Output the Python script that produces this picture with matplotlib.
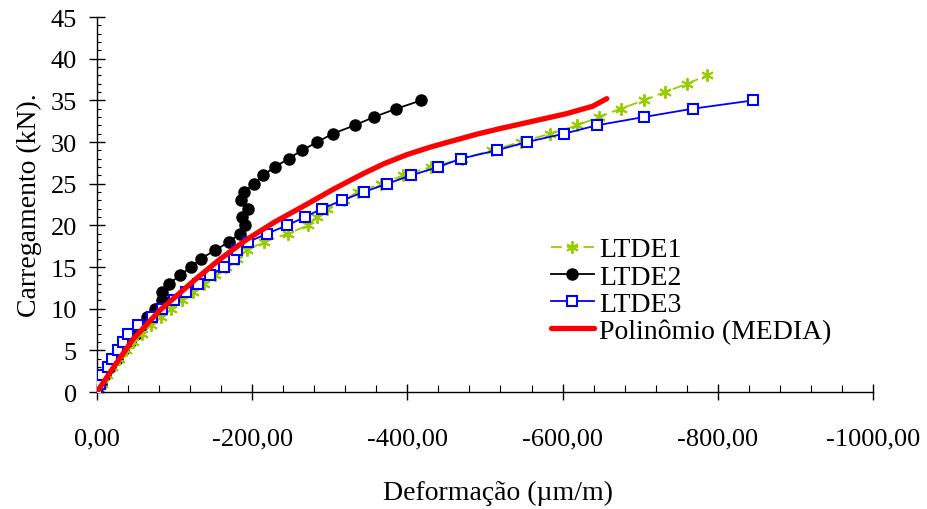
import matplotlib
matplotlib.use("Agg")
import matplotlib.pyplot as plt
from matplotlib.ticker import MultipleLocator, FixedLocator

plt.rcParams['font.family'] = ['Liberation Serif', 'DejaVu Serif']

# Load steps (kN) and measured strains (µm/m) for each specimen
load_ltde1 = list(range(0, 39))
strain_ltde1 = [0, -6, -13, -20, -28, -37, -47, -58, -70, -83, -96, -110, -124,
                -138, -152, -166, -180, -193, -215, -246, -272, -283, -296, -318,
                -336, -366, -395, -430, -470, -509, -546, -584, -619, -647, -675,
                -705, -732, -761, -786]

load_ltde2 = list(range(0, 36))
strain_ltde2 = [0, -5, -10, -17, -26, -34, -42, -50, -58, -65, -75, -84, -84,
                -93, -107, -121, -134, -152, -170, -184, -191, -187, -195, -185,
                -190, -202, -214, -229, -247, -264, -284, -304, -332, -357, -386,
                -418]

load_ltde3 = list(range(0, 36))
strain_ltde3 = [0, -4, -7, -14, -20, -27, -33, -40, -53, -71, -84, -99, -115,
                -130, -146, -164, -177, -181, -195, -219, -245, -268, -290, -316,
                -344, -374, -405, -440, -469, -515, -554, -602, -644, -705, -768,
                -846]

# Polynomial trend of the mean curve
strain_media = [0, -23, -47, -81, -128, -158, -193, -229, -266, -304, -343,
                -370, -400, -430, -455, -490, -519, -562, -605, -639, -657]
load_media = [0, 3.2, 6.4, 9.8, 13.6, 15.9, 18.3, 20.4, 22.3, 24.3, 26.2,
              27.4, 28.5, 29.4, 30.05, 30.95, 31.6, 32.5, 33.4, 34.3, 35.2]

x_ticks = [0, -200, -400, -600, -800, -1000]
x_tick_labels = ["0,00", "-200,00", "-400,00", "-600,00", "-800,00", "-1000,00"]
y_ticks = list(range(0, 46, 5))

fig = plt.figure(figsize=(9.27, 5.10), dpi=100)
ax = fig.add_axes([0.1046, 0.2294, 0.8371, 0.7353])

ax.plot(strain_ltde2, load_ltde2, color='black', lw=1.3, marker='o',
        ms=8, mfc='black', mec='black', zorder=2, label='LTDE2')
ax.plot(strain_ltde1, load_ltde1, color='#99CC00', lw=1.3, ls=(0, (6, 3)),
        marker=(6, 2, 0), ms=9, mew=1.4, mec='#99CC00', zorder=3, label='LTDE1')
ax.plot(strain_ltde3, load_ltde3, color='#0000FF', lw=1.3, marker='s',
        ms=7, mfc='white', mec='#0000FF', mew=1.5, zorder=4, label='LTDE3')
ax.plot(strain_media, load_media, color='#FF0000', lw=3.8, zorder=5,
        solid_capstyle='round', solid_joinstyle='round',
        label='Polinômio (MEDIA)')

ax.set_xlim(0, -1000)
ax.set_ylim(0, 45)

ax.spines['top'].set_visible(False)
ax.spines['right'].set_visible(False)
for s in ('left', 'bottom'):
    ax.spines[s].set_linewidth(1.0)
    ax.spines[s].set_color('black')

ax.xaxis.set_major_locator(FixedLocator(x_ticks))
ax.set_xticklabels(x_tick_labels)
ax.xaxis.set_minor_locator(MultipleLocator(40))
ax.yaxis.set_major_locator(FixedLocator(y_ticks))
ax.yaxis.set_minor_locator(MultipleLocator(1))

ax.tick_params(axis='x', which='major', direction='inout', length=11,
               width=1.0, pad=20, labelsize=19)
ax.tick_params(axis='x', which='minor', direction='in', length=5, width=0.8)
ax.tick_params(axis='y', which='major', direction='inout', length=11,
               width=1.0, pad=9, labelsize=19)
ax.tick_params(axis='y', which='minor', direction='in', length=3, width=0.8)

ax.set_xlabel('Deformação (µm/m)', fontsize=20)
ax.xaxis.set_label_coords(0.517, -0.235)
ax.set_ylabel('Carregamento (kN).', fontsize=20, labelpad=6)

handles, labels = ax.get_legend_handles_labels()
order = [1, 0, 2, 3]
ax.legend([handles[i] for i in order], [labels[i] for i in order],
          loc='upper left', bbox_to_anchor=(0.5705, 0.443), frameon=False,
          fontsize=20, handlelength=1.55, handletextpad=0.2,
          labelspacing=0.06, borderaxespad=0)

fig.savefig('out.png', dpi=100)
